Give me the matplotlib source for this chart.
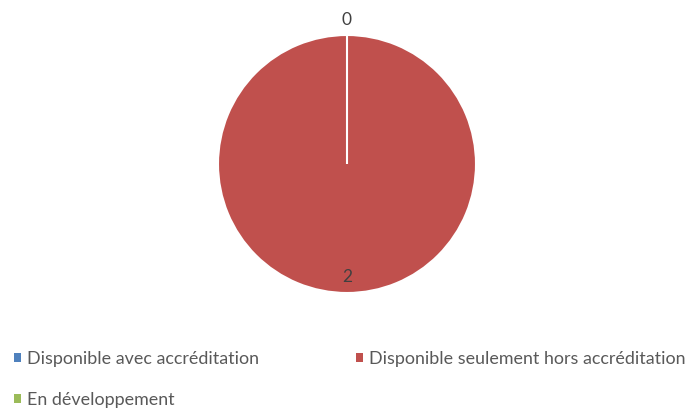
import numpy as np
import matplotlib.pyplot as plt
from matplotlib.patches import Patch

categories = ["Disponible avec accréditation",
              "Disponible seulement hors accréditation",
              "En développement"]
counts = [0, 2, 0]
colors = ["#4F81BD", "#C0504D", "#9BBB59"]

plt.rcParams['font.family'] = ['Lato', 'DejaVu Sans']

W, H = 695, 408
fig = plt.figure(figsize=(W / 100, H / 100), dpi=100)

# pie centered at (347, 164) px with radius 129 px
cx, cy, r = 347, 164, 129
ax = fig.add_axes([(cx - r) / W, 1 - (cy + r) / H, 2 * r / W, 2 * r / H])
wedges, _ = ax.pie(counts, colors=colors, startangle=90, counterclock=False,
                   radius=1, wedgeprops=dict(edgecolor="white", linewidth=1.5))
ax.set_xlim(-1, 1)
ax.set_ylim(-1, 1)
ax.set_aspect("equal")
ax.axis("off")

# value labels: zero slices outside, others inside
total = sum(counts)
start = 90.0
seen = set()
for v in counts:
    sweep = 360.0 * v / total
    mid = np.deg2rad(start - sweep / 2)
    start -= sweep
    dist = 1.13 if v == 0 else 0.86
    x, y = dist * np.cos(mid), dist * np.sin(mid) - 0.015
    key = (round(x, 3), round(y, 3))
    if key in seen:
        continue
    seen.add(key)
    ax.text(x, y, str(v), ha="center", va="center", fontsize=12.5,
            color="#404040", clip_on=False)

handles = [Patch(facecolor=c, edgecolor="none") for c in colors]
order = [0, 2, 1]
fig.legend([handles[i] for i in order], [categories[i] for i in order],
           ncol=2, loc="upper left", bbox_to_anchor=(14 / W, 1 - 351 / H),
           frameon=False, fontsize=12.9, borderpad=0, borderaxespad=0,
           handlelength=0.4, handleheight=0.4,
           handletextpad=0.3, columnspacing=5.45, labelspacing=1.4,
           labelcolor="#595959")

fig.savefig("out.png", dpi=100)
